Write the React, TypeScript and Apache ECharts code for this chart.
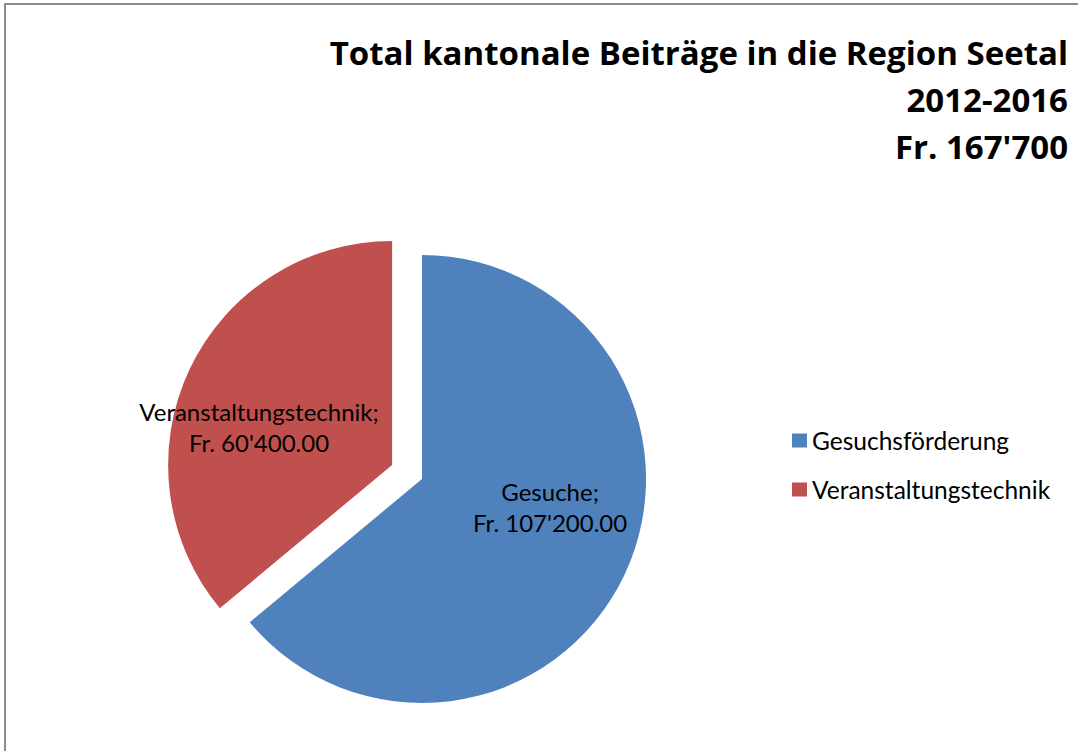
import React, { useEffect, useRef } from "react";
import * as echarts from "echarts";

const titleLines = ["Total kantonale Beiträge in die Region Seetal", "2012-2016", "Fr. 167'700"];
const categories = ["Gesuchsförderung", "Veranstaltungstechnik"];
const values = [107200, 60400];
const labelNames = ["Gesuche", "Veranstaltungstechnik"];
const labelAmounts = ["Fr. 107'200.00", "Fr. 60'400.00"];
const colors = ["#4F81BD", "#C0504D"];
const explodedIndex = 1;

const FONT = "Lato, 'Open Sans', sans-serif";
const TITLE_FONT = "'Open Sans', Lato, sans-serif";

export default function App() {
  const ref = useRef<HTMLDivElement>(null);
  useEffect(() => {
    if (!ref.current) return;
    const chart = echarts.init(ref.current, null, { renderer: "svg" });
    const labelShift = [
      { dx: 24, dy: -21 },
      { dx: -29, dy: 11 },
    ];
    chart.setOption({
      animation: false,
      backgroundColor: "#ffffff",
      title: {
        text: titleLines.join("\n"),
        left: 1068,
        textAlign: "right",
        top: 29,
        padding: 0,
        textStyle: {
          fontFamily: TITLE_FONT,
          fontSize: 33,
          fontWeight: "bold",
          color: "#000",
          lineHeight: 47,
          align: "right",
        },
      },
      legend: {
        orient: "vertical",
        left: 792,
        top: 428,
        padding: 0,
        itemWidth: 15,
        itemHeight: 14,
        itemGap: 24,
        icon: "rect",
        data: categories,
        textStyle: { fontFamily: FONT, fontSize: 24.5, color: "#000" },
      },
      graphic: [
        {
          type: "rect",
          shape: { x: 5, y: 4, width: 1200, height: 900 },
          style: { fill: "none", stroke: "#8c8c8c", lineWidth: 2 },
          silent: true,
        },
      ],
      series: [
        {
          type: "pie",
          center: [422, 479],
          radius: [0, 224],
          startAngle: 90,
          clockwise: true,
          selectedMode: "single",
          selectedOffset: 33,
          avoidLabelOverlap: false,
          emphasis: { disabled: true },
          label: {
            show: true,
            position: "inside",
            fontFamily: FONT,
            fontSize: 24,
            color: "#000",
            lineHeight: 31,
            align: "center",
            formatter: (p: any) => `${labelNames[p.dataIndex]};\n${labelAmounts[p.dataIndex]}`,
          },
          labelLayout: (p: any) => labelShift[p.dataIndex],
          data: categories.map((c, i) => ({
            name: c,
            value: values[i],
            selected: i === explodedIndex,
            itemStyle: { color: colors[i] },
          })),
        },
      ],
    });
    return () => chart.dispose();
  }, []);
  return (
    <div
      ref={ref}
      style={{ position: "fixed", left: 0, top: 0, width: 1078, height: 751 }}
    />
  );
}
